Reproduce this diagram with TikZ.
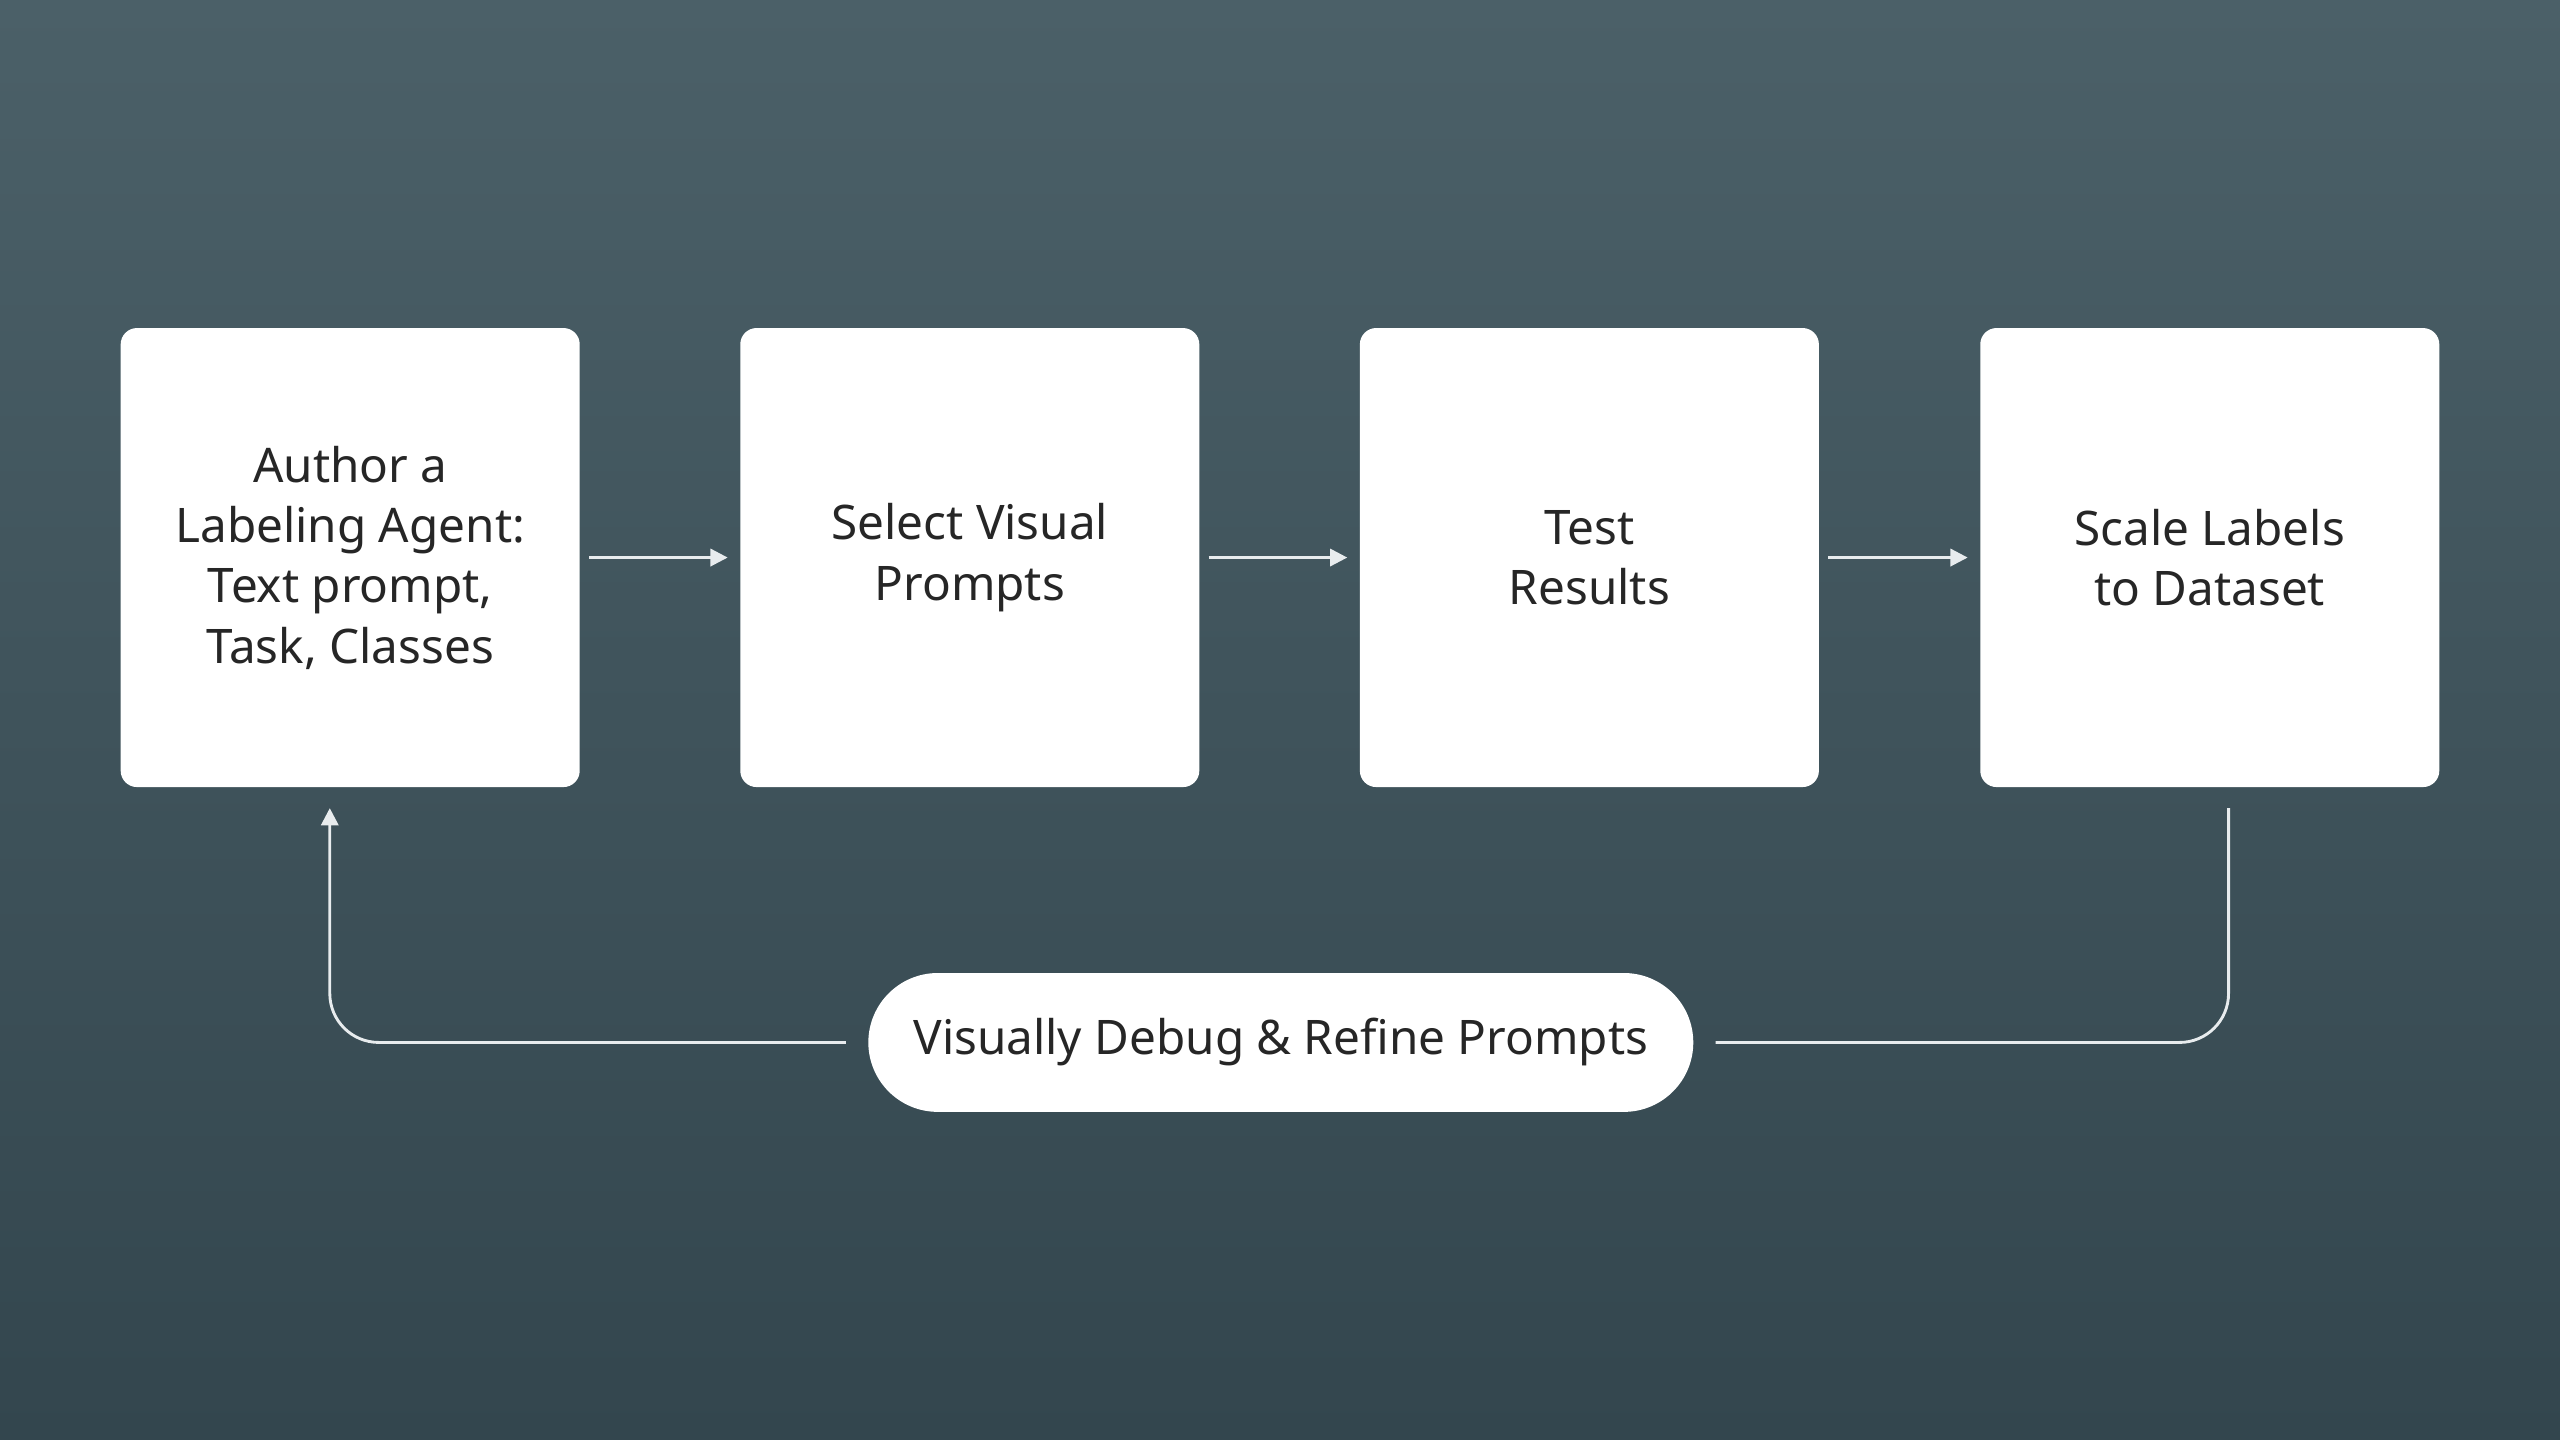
\documentclass[tikz,border=0pt]{standalone}
\usepackage{fontspec}
\setmainfont{Noto Sans}
\usetikzlibrary{arrows.meta}
\definecolor{bgtop}{HTML}{4B6068}
\definecolor{bgbot}{HTML}{33464E}
\definecolor{ln}{HTML}{E8ECEE}
\begin{document}
\begin{tikzpicture}[x=0.01cm,y=-0.01cm,
  box/.style={fill=white,rounded corners=0.1cm,minimum width=2.81cm,minimum height=2.81cm,align=center,font=\fontsize{8.3pt}{10.5pt}\selectfont,text=black!85},
  arr/.style={draw=ln,line width=0.5pt,-{Triangle[length=3pt,width=3pt]}},
  fb/.style={draw=ln,line width=0.5pt,rounded corners=0.3cm}]
\shade[top color=bgtop,bottom color=bgbot] (0,0) rectangle (1568,882);
\useasboundingbox (0,0) rectangle (1568,882);
\node[box] (a) at (214.5,341.5) {Author a\\Labeling Agent:\\Text prompt,\\Task, Classes};
\node[box] (b) at (594,341.5) {Select Visual\\Prompts};
\node[box] (c) at (973.5,341.5) {Test\\Results};
\node[box] (d) at (1353.5,341.5) {Scale Labels\\to Dataset};
\node[fill=white,rounded corners=0.425cm,minimum width=5.05cm,minimum height=0.85cm,font=\fontsize{8.3pt}{10.5pt}\selectfont,text=black!85] (p) at (784.5,638.5) {Visually Debug \& Refine Prompts};
\draw[arr] ([xshift=0.05cm]a.east) -- ([xshift=-0.07cm]b.west);
\draw[arr] ([xshift=0.05cm]b.east) -- ([xshift=-0.07cm]c.west);
\draw[arr] ([xshift=0.05cm]c.east) -- ([xshift=-0.07cm]d.west);
\coordinate (d1) at (1365,495);
\coordinate (a1) at (202,495);
\draw[fb] (d1) |- ([xshift=0.13cm]p.east);
\draw[fb,-{Triangle[length=3pt,width=3pt]}] ([xshift=-0.13cm]p.west) -| (a1);
\end{tikzpicture}
\end{document}
